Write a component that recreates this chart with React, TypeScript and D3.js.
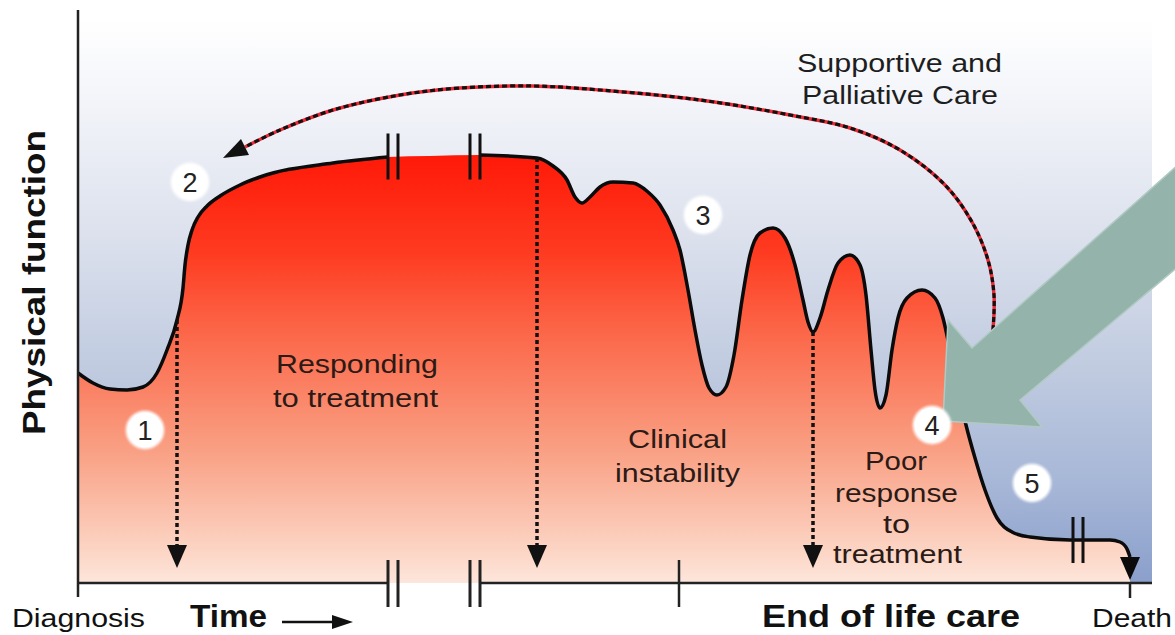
import * as React from 'react';
import * as d3 from 'd3';

// physical function trajectory, time in arbitrary units, function in arbitrary units
const trajectoryTime = [
	0, 1.5, 3.2, 4.9, 6.5, 7.9, 8.9, 9.9, 10.5, 10.7, 11, 11.4, 12, 12.9, 14.2, 16.2, 18.2, 25.5, 31, 35.2, 40.2,
	45.9, 47.5, 48.9, 49.7, 50.4, 51.2, 52.2, 53.5, 55.5, 57, 58.2, 59.5, 60.2, 61, 61.7, 62.4, 63.1, 63.9, 64.8, 65.6,
	66.4, 67.2, 68.2, 69.5, 70.7, 71.7, 72.5, 73, 73.5, 74.2, 75, 76, 77.2, 78.2, 78.8, 79.3, 79.7, 80.2, 80.8, 81.4,
	82, 82.9, 84.4, 85.7, 86.5, 87.2, 88, 88.8, 89.7, 90.7, 91.9, 93.4, 95.2, 99.2, 103.2, 104.2, 104.9, 105.2,
];
const trajectoryFunction = [
	42, 40, 38.8, 38.6, 39.2, 42, 46.6, 52.6, 59, 63.6, 67.6, 70.6, 73.2, 75.4, 77.4, 79.6, 81.2, 84, 85.2, 85.4, 85.6,
	85, 83.4, 80.6, 77.2, 76, 77.2, 79.2, 80.2, 80, 78.2, 75.6, 70.6, 66.6, 58.6, 50.6, 43.6, 39, 37.6, 39.2, 45.6,
	56.6, 65.6, 70, 71, 69, 63.6, 56.6, 52.2, 50.2, 53, 58.6, 64, 65.6, 63.6, 57.6, 46.6, 38.6, 35, 37.6, 46.6,
	53, 57, 58.6, 57, 53, 46.6, 38.6, 31.6, 25, 18.6, 13, 10.2, 9.2, 8.6, 8.6, 8.2, 6.8, 5.2,
];

// supportive and palliative care arc (last point is the arrow tip)
const careTime = [91.5, 91.6, 91, 89.4, 86.7, 82.2, 77.2, 71.2, 62.2, 52.2, 45.5, 38.2, 32.2, 25.5, 20.2, 16.7, 14.5];
const careFunction = [50.6, 57.6, 64.6, 72.2, 79.6, 86.6, 91, 93.6, 96.6, 98.6, 99.4, 99, 97.6, 94.6, 90.6, 87.2, 85];

// dotted drops to the time axis
const dropTimes = [9.9, 45.9, 73.5];
const dropFrom = [52.6, 85, 50.2];
const dropTo = 3;

// numbered stages
const stageLabels = ['1', '2', '3', '4', '5'];
const stageTime = [6.7, 11.2, 62.5, 85.4, 95.4];
const stageFunction = [30.6, 80.2, 73.6, 31.6, 20];

// axis breaks and ticks
const breakTimes = [31, 32, 39.2, 40.2];
const endBreakTimes = [99.5, 100.5];
const tickTimes = [60.1];
const deathTime = 105.2;
const deathTipFunction = 0.6;
const strokeGap = [31, 40.2];

const axisLabels = { diagnosis: 'Diagnosis', time: 'Time', end: 'End of life care', death: 'Death', yTitle: 'Physical function' };

function arrowHead(base: [number, number], tip: [number, number], halfW: number): string {
	const dx = tip[0] - base[0];
	const dy = tip[1] - base[1];
	const len = Math.sqrt(dx * dx + dy * dy);
	const px = (-dy / len) * halfW;
	const py = (dx / len) * halfW;
	return `${base[0] + px},${base[1] + py} ${tip[0]},${tip[1]} ${base[0] - px},${base[1] - py}`;
}

const font = '"Liberation Sans", Arial, sans-serif';

const App = () => {
	const width = 1175;
	const height = 635;
	const x = d3.scaleLinear().domain([0, 107.2]).range([78, 1150]);
	const y = d3.scaleLinear().domain([0, 114.6]).range([583, 10]);

	const pts: [number, number][] = trajectoryTime.map((t, i) => [t, trajectoryFunction[i]]);
	const area = d3
		.area<[number, number]>()
		.x(d => x(d[0]))
		.y0(y(0))
		.y1(d => y(d[1]))
		.curve(d3.curveMonotoneX);
	const outline = d3
		.line<[number, number]>()
		.defined(d => d[0] <= strokeGap[0] || d[0] >= strokeGap[1])
		.x(d => x(d[0]))
		.y(d => y(d[1]))
		.curve(d3.curveMonotoneX);

	const care: [number, number][] = careTime.map((t, i) => [x(t), y(careFunction[i])]);
	const careLine = d3.line().curve(d3.curveCatmullRom.alpha(0.5));
	const careBase = care[care.length - 2];
	const careTip = care[care.length - 1];
	const carePath = careLine(care.slice(0, care.length - 1)) || '';

	const deathBase: [number, number] = [x(deathTime), y(trajectoryFunction[trajectoryFunction.length - 1])];
	const deathTip: [number, number] = [x(deathTime), y(deathTipFunction)];

	const axisY = y(0);
	const plateauY = y(85.3);
	const endY = y(8.6);

	return (
		<div style={{ position: 'absolute', left: 0, top: 0 }}>
			<svg width={width} height={height} style={{ display: 'block', background: '#fff' }}>
				<defs>
					<linearGradient id="bg" x1="0" y1="20" x2="0" y2="583" gradientUnits="userSpaceOnUse">
						<stop offset="0" stopColor="#ffffff" />
						<stop offset="0.15" stopColor="#f2f4f9" />
						<stop offset="0.38" stopColor="#dce1ed" />
						<stop offset="0.62" stopColor="#c0cbe0" />
						<stop offset="0.82" stopColor="#a7b7d7" />
						<stop offset="1" stopColor="#8a9fcb" />
					</linearGradient>
					<linearGradient id="red" x1="0" y1="157" x2="0" y2="583" gradientUnits="userSpaceOnUse">
						<stop offset="0" stopColor="#ff1a08" />
						<stop offset="0.22" stopColor="#fe3a20" />
						<stop offset="0.4" stopColor="#fc6446" />
						<stop offset="0.69" stopColor="#f9a084" />
						<stop offset="0.93" stopColor="#fcd6c6" />
						<stop offset="1" stopColor="#fde6dc" />
					</linearGradient>
					<filter id="glow" x="-30%" y="-30%" width="160%" height="160%">
						<feGaussianBlur stdDeviation="1.2" />
					</filter>
				</defs>

				{/* background panel */}
				<rect x={x(0)} y={0} width={x(107.4) - x(0)} height={axisY} fill="url(#bg)" />

				{/* filled trajectory */}
				<path d={area(pts) || ''} fill="url(#red)" />
				<path d={outline(pts) || ''} fill="none" stroke="#0b0b0b" strokeWidth={3.5} strokeLinejoin="round" />

				{/* plateau break marks */}
				{breakTimes.map((t, i) => (
					<line key={'pb' + i} x1={x(t)} x2={x(t)} y1={plateauY - 23} y2={plateauY + 23} stroke="#111" strokeWidth={3} />
				))}
				{endBreakTimes.map((t, i) => (
					<line key={'eb' + i} x1={x(t)} x2={x(t)} y1={endY - 23} y2={endY + 23} stroke="#111" strokeWidth={3} />
				))}

				{/* death arrow */}
				<polygon points={arrowHead(deathBase, deathTip, 10)} fill="#0b0b0b" />

				{/* dotted drops */}
				{dropTimes.map((t, i) => {
					const tip: [number, number] = [x(t), y(dropTo)];
					const base: [number, number] = [x(t), y(dropTo) - 23];
					return (
						<g key={'drop' + i}>
							<line x1={x(t)} x2={x(t)} y1={y(dropFrom[i])} y2={base[1]} stroke="#111" strokeWidth={3.5} strokeDasharray="4 3" />
							<polygon points={arrowHead(base, tip, 10)} fill="#111" />
						</g>
					);
				})}

				{/* supportive care arc */}
				<path d={carePath} fill="none" stroke="#ec2a36" strokeWidth={3.5} />
				<path d={carePath} fill="none" stroke="#111" strokeWidth={3.2} strokeDasharray="5 3" />
				<polygon points={arrowHead(careBase, careTip, 9)} fill="#111" />

				{/* axes */}
				<line x1={x(0)} x2={x(0)} y1={10} y2={597} stroke="#222" strokeWidth={2.5} />
				<line x1={x(0)} x2={x(breakTimes[0])} y1={axisY} y2={axisY} stroke="#222" strokeWidth={2.5} />
				<line x1={x(breakTimes[3])} x2={x(107.4)} y1={axisY} y2={axisY} stroke="#222" strokeWidth={2.5} />
				{breakTimes.map((t, i) => (
					<line key={'ab' + i} x1={x(t)} x2={x(t)} y1={axisY - 23} y2={axisY + 24} stroke="#222" strokeWidth={3} />
				))}
				{tickTimes.map((t, i) => (
					<line key={'tk' + i} x1={x(t)} x2={x(t)} y1={axisY - 23} y2={axisY + 24} stroke="#222" strokeWidth={2.5} />
				))}
				<line x1={x(deathTime)} x2={x(deathTime)} y1={axisY} y2={axisY + 15} stroke="#222" strokeWidth={2.5} />

				{/* big pointer arrow */}
				<polygon
					points="1180,163 972,348 948,320 943,421 1042,427 1020,400 1180,265"
					fill="#93b3ab"
					stroke="#b0cac3"
					strokeWidth={1.5}
				/>

				{/* stage markers */}
				{stageLabels.map((s, i) => (
					<g key={'st' + i} transform={`translate(${x(stageTime[i])},${y(stageFunction[i])})`}>
						<circle r={19.5} fill="#fff" opacity={0.85} filter="url(#glow)" />
						<circle r={17.5} fill="#fff" />
						<text textAnchor="middle" dy="0.36em" fontFamily={font} fontSize={27} fill="#222">
							{s}
						</text>
					</g>
				))}

				{/* annotations */}
				<g fontFamily={font} fontSize={26} fill="#1e1e1e">
					<text x={797} y={72} textLength={205} lengthAdjust="spacingAndGlyphs">Supportive and</text>
					<text x={802} y={104} textLength={196} lengthAdjust="spacingAndGlyphs">Palliative Care</text>
				</g>
				<g fontFamily={font} fontSize={26} fill="#2b1a15">
					<text x={276} y={373} textLength={162} lengthAdjust="spacingAndGlyphs">Responding</text>
					<text x={273} y={407} textLength={165} lengthAdjust="spacingAndGlyphs">to treatment</text>
					<text x={628} y={448} textLength={99} lengthAdjust="spacingAndGlyphs">Clinical</text>
					<text x={615} y={482} textLength={125} lengthAdjust="spacingAndGlyphs">instability</text>
					<text x={865} y={470} textLength={62} lengthAdjust="spacingAndGlyphs">Poor</text>
					<text x={835} y={502} textLength={123} lengthAdjust="spacingAndGlyphs">response</text>
					<text x={883} y={533} textLength={27} lengthAdjust="spacingAndGlyphs">to</text>
					<text x={833} y={563} textLength={129} lengthAdjust="spacingAndGlyphs">treatment</text>
				</g>

				{/* axis labels */}
				<g fontFamily={font} fill="#111">
					<text x={12} y={627} fontSize={26} textLength={133} lengthAdjust="spacingAndGlyphs">{axisLabels.diagnosis}</text>
					<text x={190} y={627} fontSize={31} fontWeight="bold" textLength={77} lengthAdjust="spacingAndGlyphs">{axisLabels.time}</text>
					<text x={762} y={627} fontSize={31} fontWeight="bold" textLength={258} lengthAdjust="spacingAndGlyphs">{axisLabels.end}</text>
					<text x={1092} y={627} fontSize={26} textLength={80} lengthAdjust="spacingAndGlyphs">{axisLabels.death}</text>
					<text
						transform="translate(45,435) rotate(-90)"
						fontSize={31}
						fontWeight="bold"
						textLength={305}
						lengthAdjust="spacingAndGlyphs"
					>
						{axisLabels.yTitle}
					</text>
				</g>
				<line x1={282} x2={336} y1={622} y2={622} stroke="#111" strokeWidth={2.5} />
				<polygon points={arrowHead([332, 622], [353, 622], 7)} fill="#111" />
			</svg>
		</div>
	);
};

export default App;
